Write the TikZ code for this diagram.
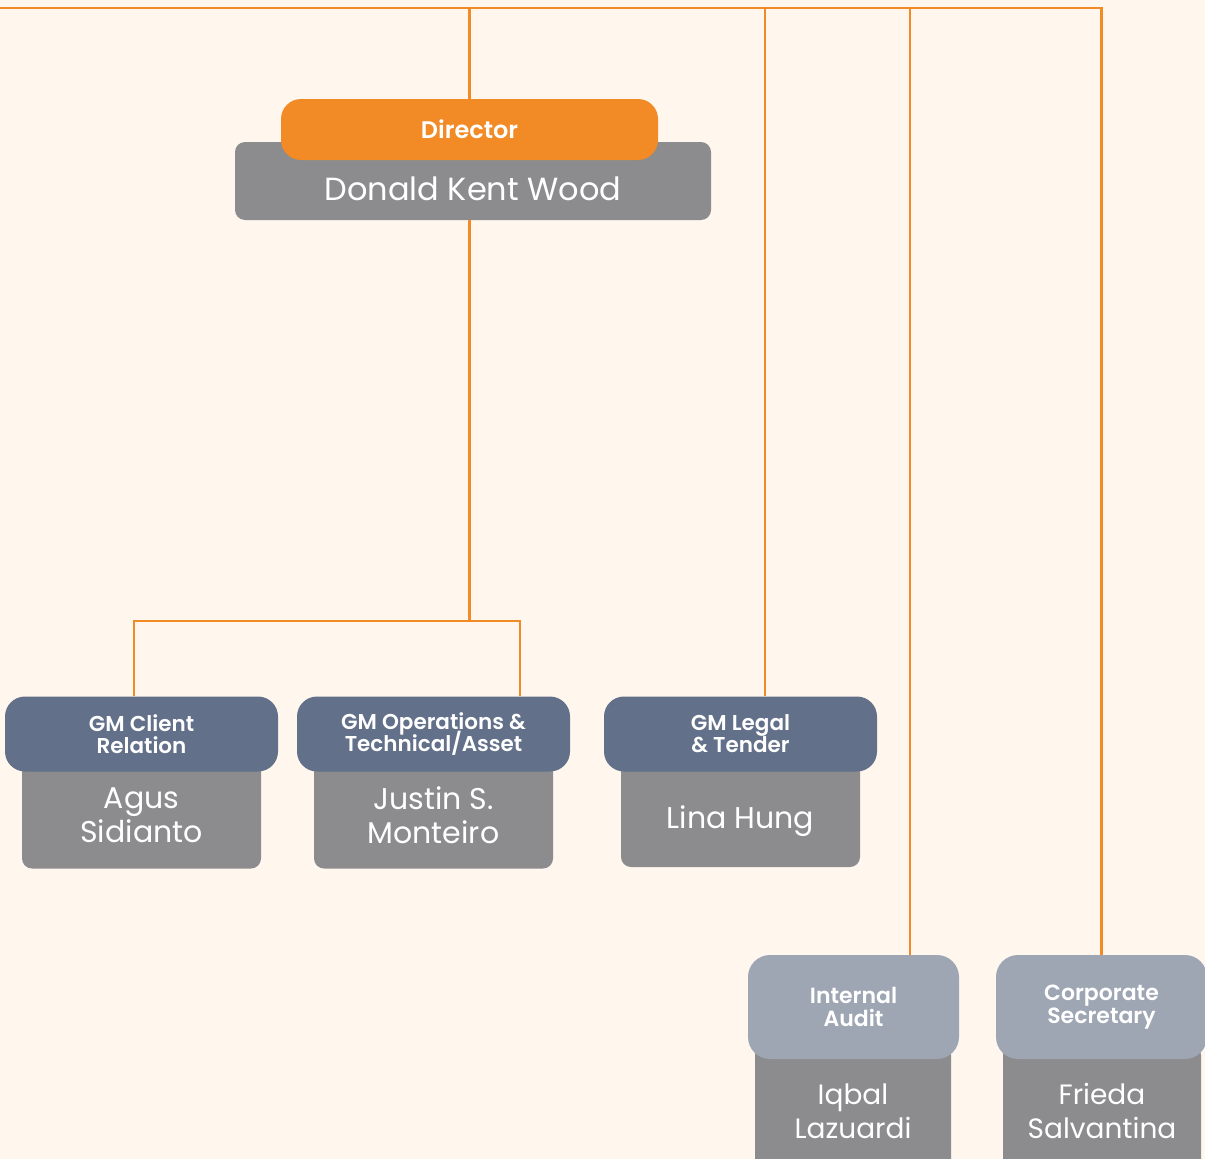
\documentclass[tikz,border=0pt]{standalone}
\usepackage{fontspec}
\setmainfont{Poppins}[BoldFont={Poppins SemiBold}]
\usepackage{tikz}

\definecolor{paper}{HTML}{FFF7EE}
\definecolor{linkorange}{HTML}{F28A26}
\definecolor{namegray}{HTML}{8C8C8E}
\definecolor{roleblue}{HTML}{627089}
\definecolor{rolelight}{HTML}{9EA6B4}

\tikzset{
  link/.style={draw=linkorange, line width=2.4pt},
  namebox/.style={fill=namegray, rounded corners=10pt, text=white, align=center, inner sep=0pt},
  rolebox/.style={rounded corners=20pt, text=white, align=center, inner sep=0pt},
  gmfont/.style={font=\bfseries\fontsize{21.5}{22}\selectfont},
}

\begin{document}
\begin{tikzpicture}[x=1pt, y=-1pt]
  \fill [paper] (0,0) rectangle (1205,1159);
  \useasboundingbox (0,0) rectangle (1205,1159);
  \clip (0,0) rectangle (1205,1159);

  % director
  \node [namebox, minimum width=476pt, text height=58pt, text depth=20pt, font=\fontsize{32}{40}\selectfont] (wood) at (473,181) {Donald Kent Wood};
  \node [rolebox, fill=linkorange, minimum width=377pt, minimum height=61pt, font=\bfseries\fontsize{24}{30}\selectfont] (director) at (469.5,129.5) {Director};

  % general managers
  \node [namebox, minimum width=239pt, minimum height=107pt, font=\fontsize{30}{34}\selectfont] (agus) at (141.5,815) {Agus\\Sidianto};
  \node [rolebox, fill=roleblue, minimum width=273pt, minimum height=75pt, gmfont] (client) at (141.5,734) {GM Client\\Relation};

  \node [namebox, minimum width=239pt, minimum height=107pt, font=\fontsize{30}{34}\selectfont] (justin) at (433.5,815) {Justin S.\\Monteiro};
  \node [rolebox, fill=roleblue, minimum width=273pt, minimum height=75pt, gmfont] (ops) at (433.5,734) {GM Operations \&\\[-5pt]Technical/Asset};

  \node [namebox, minimum width=239pt, text height=68pt, text depth=39pt, font=\fontsize{30}{34}\selectfont] (lina) at (740.5,813.5) {Lina Hung};
  \node [rolebox, fill=roleblue, minimum width=273pt, minimum height=75pt, gmfont] (legal) at (740.5,734) {GM Legal\\\& Tender};

  % staff units
  \node [namebox, minimum width=196pt, minimum height=132pt, font=\fontsize{28}{34}\selectfont] (iqbal) at (853,1111) {Iqbal\\Lazuardi};
  \node [rolebox, rounded corners=22pt, fill=rolelight, minimum width=211pt, minimum height=104pt, font=\bfseries\fontsize{22}{23}\selectfont] (audit) at (853.5,1007) {Internal\\Audit};

  \node [namebox, minimum width=198pt, minimum height=132pt, font=\fontsize{28}{34}\selectfont] (frieda) at (1102,1111) {Frieda\\Salvantina};
  \node [rolebox, rounded corners=22pt, fill=rolelight, minimum width=211pt, minimum height=104pt, font=\bfseries\fontsize{22}{23}\selectfont] (corp) at (1101.5,1007) {Corporate\\Secretary};

  % reporting lines
  \coordinate (rail) at (0,8);
  \coordinate (r-leg) at (765,8);
  \coordinate (r-aud) at (910,8);
  \coordinate (fork-l) at (134,621);
  \coordinate (fork-r) at (520,621);
  \draw [link] (corp.north) |- (rail);
  \draw [link] (director.north) -- (director.north |- rail);
  \draw [link] (r-leg) -- (r-leg |- legal.north);
  \draw [link] (r-aud) -- (r-aud |- audit.north);
  \draw [link] (director |- wood.south) -- (director |- fork-l);
  \draw [link] (fork-l |- client.north) -- (fork-l) -- (fork-r) -- (fork-r |- ops.north);
\end{tikzpicture}
\end{document}
